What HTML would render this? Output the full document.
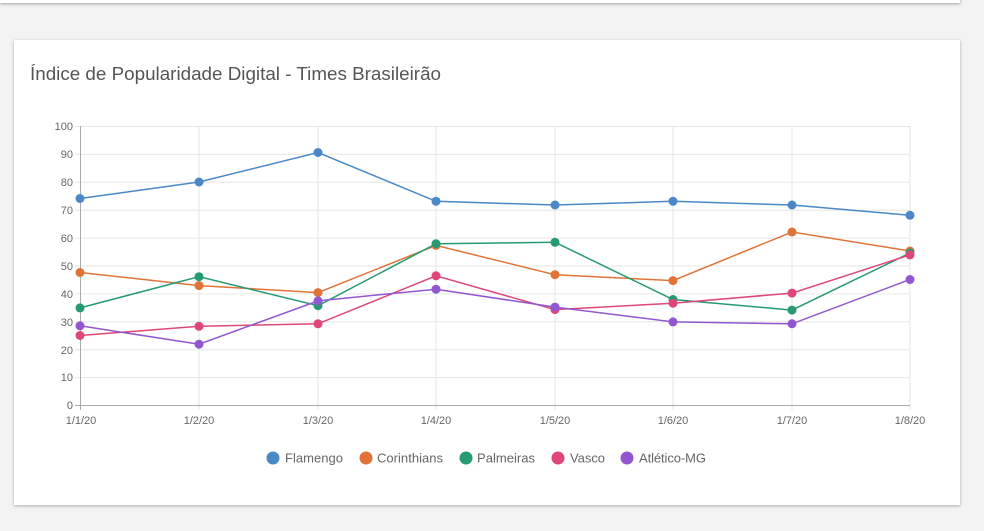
<!DOCTYPE html>
<html><head><meta charset="utf-8"><style>
body{margin:0;width:984px;height:531px;background:#f3f3f3;overflow:hidden;position:relative;font-family:"Liberation Sans",sans-serif}
.top{position:absolute;left:0;top:-20px;width:960px;height:23px;background:#fff;box-shadow:0 1px 3px rgba(0,0,0,.35)}
.card{position:absolute;left:14px;top:40px;width:946px;height:465px;background:#fff;box-shadow:0 1px 3px rgba(0,0,0,.3)}
svg{position:absolute;left:0;top:0}
</style></head><body>
<div class="top"></div>
<div class="card"></div>
<svg width="984" height="531" viewBox="0 0 984 531" font-family="Liberation Sans, sans-serif">
<text x="30" y="80" font-size="18" fill="#555" textLength="411" lengthAdjust="spacingAndGlyphs">Índice de Popularidade Digital - Times Brasileirão</text>
<g stroke="#e6e6e6" stroke-width="1">
<line x1="75" y1="126.5" x2="910" y2="126.5"/><line x1="75" y1="154.4" x2="910" y2="154.4"/><line x1="75" y1="182.3" x2="910" y2="182.3"/><line x1="75" y1="210.2" x2="910" y2="210.2"/><line x1="75" y1="238.1" x2="910" y2="238.1"/><line x1="75" y1="266" x2="910" y2="266"/><line x1="75" y1="293.9" x2="910" y2="293.9"/><line x1="75" y1="321.8" x2="910" y2="321.8"/><line x1="75" y1="349.7" x2="910" y2="349.7"/><line x1="75" y1="377.6" x2="910" y2="377.6"/>
<line x1="199" y1="126" x2="199" y2="410"/><line x1="318" y1="126" x2="318" y2="410"/><line x1="436" y1="126" x2="436" y2="410"/><line x1="555" y1="126" x2="555" y2="410"/><line x1="673" y1="126" x2="673" y2="410"/><line x1="792" y1="126" x2="792" y2="410"/><line x1="910" y1="126" x2="910" y2="410"/>
</g>
<line x1="80.5" y1="126" x2="80.5" y2="410" stroke="#aaa"/>
<line x1="75" y1="405.5" x2="910" y2="405.5" stroke="#aaa"/>
<g font-size="11" fill="#666" text-anchor="end">
<text x="73" y="130">100</text><text x="73" y="158">90</text><text x="73" y="186">80</text><text x="73" y="214">70</text><text x="73" y="242">60</text><text x="73" y="270">50</text><text x="73" y="298">40</text><text x="73" y="326">30</text><text x="73" y="354">20</text><text x="73" y="381">10</text><text x="73" y="409">0</text>
</g>
<g font-size="11" fill="#666" text-anchor="middle">
<text x="81" y="424">1/1/20</text><text x="199" y="424">1/2/20</text><text x="318" y="424">1/3/20</text><text x="436" y="424">1/4/20</text><text x="555" y="424">1/5/20</text><text x="673" y="424">1/6/20</text><text x="792" y="424">1/7/20</text><text x="910" y="424">1/8/20</text>
</g>
<g fill="none" stroke-width="1.5">
<polyline stroke="#4a88c7" points="80,198.5 199,182 318,152.5 436,201.3 555,205 673,201.3 792,205 910,215.3"/>
<polyline stroke="#e07438" points="80,272.5 199,285.6 318,292.6 436,245.4 555,274.7 673,280.6 792,232 910,251"/>
<polyline stroke="#269a72" points="80,307.9 199,276.7 318,305.7 436,243.7 555,242.3 673,299.5 792,310.1 910,253"/>
<polyline stroke="#de4777" points="80,335.5 199,326.3 318,323.8 436,275.8 555,309.6 673,303.2 792,293.1 910,254.9"/>
<polyline stroke="#9257d0" points="80,325.8 199,344.2 318,300.9 436,289.2 555,307.1 673,321.9 792,323.8 910,279.5"/>
</g>
<g fill="#4a88c7"><circle cx="80" cy="198.5" r="4.5"/><circle cx="199" cy="182" r="4.5"/><circle cx="318" cy="152.5" r="4.5"/><circle cx="436" cy="201.3" r="4.5"/><circle cx="555" cy="205" r="4.5"/><circle cx="673" cy="201.3" r="4.5"/><circle cx="792" cy="205" r="4.5"/><circle cx="910" cy="215.3" r="4.5"/></g>
<g fill="#e07438"><circle cx="80" cy="272.5" r="4.5"/><circle cx="199" cy="285.6" r="4.5"/><circle cx="318" cy="292.6" r="4.5"/><circle cx="436" cy="245.4" r="4.5"/><circle cx="555" cy="274.7" r="4.5"/><circle cx="673" cy="280.6" r="4.5"/><circle cx="792" cy="232" r="4.5"/><circle cx="910" cy="251" r="4.5"/></g>
<g fill="#269a72"><circle cx="80" cy="307.9" r="4.5"/><circle cx="199" cy="276.7" r="4.5"/><circle cx="318" cy="305.7" r="4.5"/><circle cx="436" cy="243.7" r="4.5"/><circle cx="555" cy="242.3" r="4.5"/><circle cx="673" cy="299.5" r="4.5"/><circle cx="792" cy="310.1" r="4.5"/><circle cx="910" cy="253" r="4.5"/></g>
<g fill="#de4777"><circle cx="80" cy="335.5" r="4.5"/><circle cx="199" cy="326.3" r="4.5"/><circle cx="318" cy="323.8" r="4.5"/><circle cx="436" cy="275.8" r="4.5"/><circle cx="555" cy="309.6" r="4.5"/><circle cx="673" cy="303.2" r="4.5"/><circle cx="792" cy="293.1" r="4.5"/><circle cx="910" cy="254.9" r="4.5"/></g>
<g fill="#9257d0"><circle cx="80" cy="325.8" r="4.5"/><circle cx="199" cy="344.2" r="4.5"/><circle cx="318" cy="300.9" r="4.5"/><circle cx="436" cy="289.2" r="4.5"/><circle cx="555" cy="307.1" r="4.5"/><circle cx="673" cy="321.9" r="4.5"/><circle cx="792" cy="323.8" r="4.5"/><circle cx="910" cy="279.5" r="4.5"/></g>
<g font-size="13" fill="#666" lengthAdjust="spacingAndGlyphs">
<circle cx="273" cy="458" r="6.5" fill="#4a88c7"/><text x="285" y="462.5" textLength="58">Flamengo</text>
<circle cx="366" cy="458" r="6.5" fill="#e07438"/><text x="377" y="462.5" textLength="66">Corinthians</text>
<circle cx="466" cy="458" r="6.5" fill="#269a72"/><text x="477" y="462.5" textLength="58">Palmeiras</text>
<circle cx="558" cy="458" r="6.5" fill="#de4777"/><text x="570" y="462.5" textLength="35">Vasco</text>
<circle cx="627" cy="458" r="6.5" fill="#9257d0"/><text x="639" y="462.5" textLength="67">Atlético-MG</text>
</g>
</svg>
</body></html>
